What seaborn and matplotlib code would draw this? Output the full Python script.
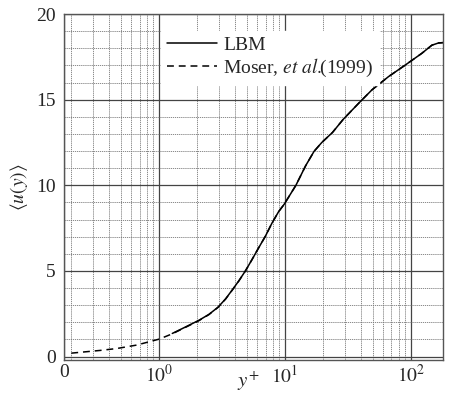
import numpy as np
import pandas as pd
import matplotlib
matplotlib.use("Agg")
import matplotlib.pyplot as plt
from matplotlib.ticker import FixedLocator, NullFormatter
import seaborn as sns

# Mean velocity profile in wall units, channel flow at Re_tau = 180
lbm_yplus = [1.27, 1.62, 2.07, 2.48, 2.93, 3.37, 3.85, 4.29, 4.84, 5.47, 6.17, 6.97,
             7.87, 8.89, 9.86, 12.2, 14.6, 17.0, 19.6, 23.8, 29.0, 38.6, 49.2, 66.6,
             90.3, 122.0, 147.0, 166.0, 180.0]
lbm_u = [1.35, 1.73, 2.12, 2.46, 2.88, 3.37, 3.94, 4.42, 5.0, 5.67, 6.35, 7.02,
         7.79, 8.46, 8.9, 10.0, 11.15, 11.98, 12.5, 13.08, 13.85, 14.8, 15.58, 16.35,
         17.02, 17.7, 18.18, 18.31, 18.33]

moser_yplus = [0.2, 0.34, 0.46, 0.66, 1.0, 1.27, 1.62, 2.07, 2.48, 2.93, 3.37, 3.85,
               4.29, 4.84, 5.47, 6.17, 6.97, 7.87, 8.89, 9.86, 12.2, 14.6, 17.0, 19.6,
               23.8, 29.0, 38.6, 49.2, 66.6, 90.3, 122.0, 147.0, 166.0, 180.0]
moser_u = [0.2, 0.36, 0.47, 0.67, 1.02, 1.33, 1.71, 2.1, 2.45, 2.87, 3.36, 3.93,
           4.41, 5.0, 5.67, 6.35, 7.02, 7.79, 8.46, 8.9, 10.0, 11.15, 11.98, 12.5,
           13.08, 13.85, 14.8, 15.58, 16.35, 17.02, 17.7, 18.18, 18.31, 18.33]

series_names = ["LBM", r"Moser, $\mathit{et\ al.}\!\!$(1999)"]

x_tick_values = [0.175, 1, 10, 100]
x_tick_labels = ["0", r"$10^0$", r"$10^1$", r"$10^2$"]
y_tick_values = [0, 5, 10, 15, 20]

df = pd.concat([
    pd.DataFrame({"yplus": lbm_yplus, "u": lbm_u, "source": series_names[0]}),
    pd.DataFrame({"yplus": moser_yplus, "u": moser_u, "source": series_names[1]}),
], ignore_index=True)

sns.set_style("white")
plt.rcParams["font.family"] = ["Liberation Serif", "DejaVu Serif"]
plt.rcParams["mathtext.fontset"] = "stix"

fig = plt.figure(figsize=(4.52, 3.97), dpi=100)
ax = fig.add_axes([0.1416, 0.0932, 0.8384, 0.8715])

sns.lineplot(data=df, x="yplus", y="u", hue="source", style="source",
             hue_order=series_names, style_order=series_names,
             palette=["black", "black"], dashes=[(None, None), (4.5, 3.2)],
             linewidth=1.1, sort=False, estimator=None, ax=ax)

ax.set_xscale("log")
ax.set_xlim(0.175, 180)
ax.set_ylim(-0.2, 20)

ax.xaxis.set_major_locator(FixedLocator(x_tick_values))
ax.set_xticklabels(x_tick_labels)
minor_x = [m * 10.0 ** e for e in (-1, 0, 1) for m in range(2, 10)]
ax.xaxis.set_minor_locator(FixedLocator(minor_x))
ax.xaxis.set_minor_formatter(NullFormatter())
ax.yaxis.set_major_locator(FixedLocator(y_tick_values))
ax.yaxis.set_minor_locator(FixedLocator(list(range(0, 21))))

ax.grid(which="major", color="#444444", linestyle="-", linewidth=0.9)
ax.grid(which="minor", color="#777777", linestyle=(0, (1.5, 1.0)), linewidth=0.6)
ax.set_axisbelow(True)

ax.tick_params(which="both", length=0, labelsize=14)
ax.tick_params(axis="x", pad=3)
ax.tick_params(axis="y", pad=6)
for spine in ax.spines.values():
    spine.set_color("#555555")
    spine.set_linewidth(1.0)

ax.set_xlabel(r"$y^{+}$", fontsize=15)
ax.xaxis.set_label_coords(0.485, -0.028)
ax.set_ylabel(r"$\langle u(y)\rangle$", fontsize=14, labelpad=4)

leg = ax.legend(loc="upper left", bbox_to_anchor=(0.23, 0.98), fontsize=14,
                frameon=True, fancybox=False, handlelength=2.6, handletextpad=0.3,
                borderpad=0.3, labelspacing=0.15)
leg.get_frame().set_facecolor("white")
leg.get_frame().set_edgecolor("white")
leg.get_frame().set_alpha(1.0)

fig.savefig("out.png", dpi=100)
